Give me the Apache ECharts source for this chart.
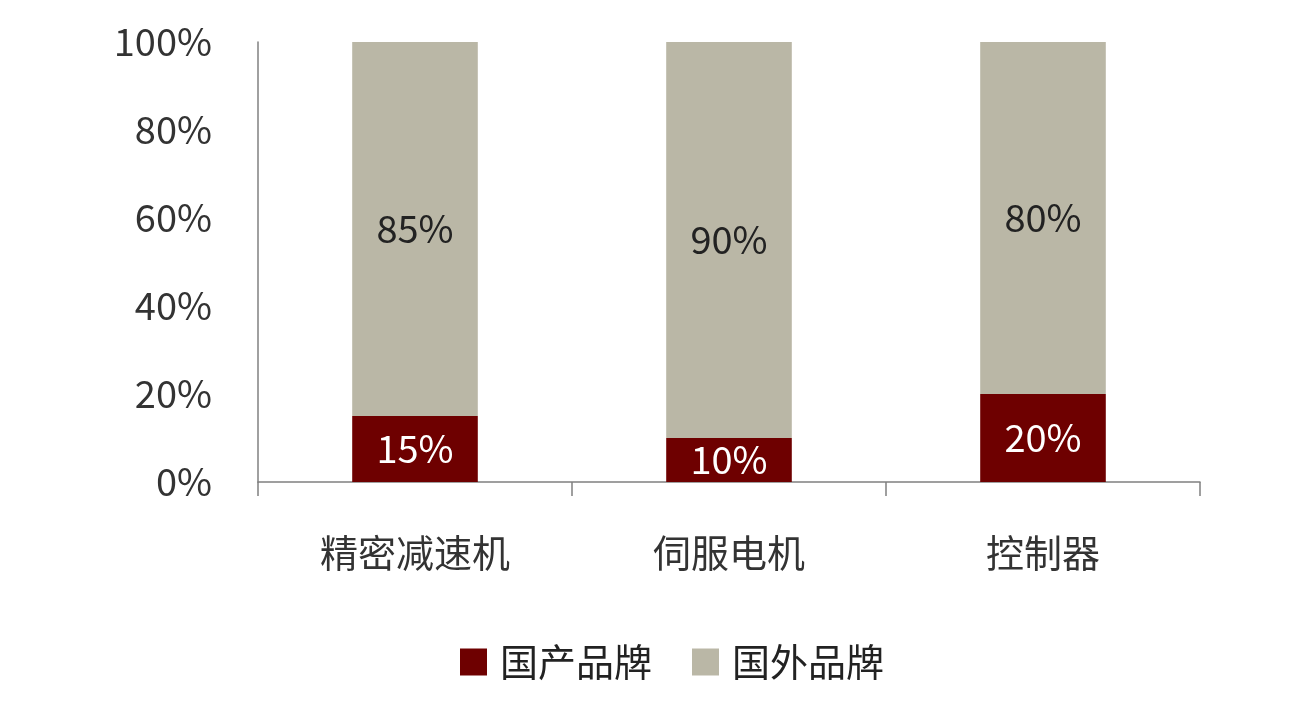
<!DOCTYPE html>
<html>
<head>
<meta charset="utf-8">
<script src="https://cdn.jsdelivr.net/npm/echarts@6/dist/echarts.min.js"></script>
<style>
  html, body { margin: 0; padding: 0; background: #fff; }
  #main { width: 1298px; height: 724px; }
</style>
</head>
<body>
<div id="main"></div>
<script>
// 类别与数据
var categories = ['精密减速机', '伺服电机', '控制器'];
var domestic = [15, 10, 20];
var foreign = [85, 90, 80];
var seriesNames = ['国产品牌', '国外品牌'];

var FONT = '"Noto Sans CJK SC", "Noto Sans", sans-serif';

var chart = echarts.init(document.getElementById('main'));

var option = {
  backgroundColor: '#fff',
  textStyle: { fontFamily: FONT },
  grid: { left: 258, right: 98, top: 42, bottom: 242, containLabel: false },
  legend: {
    data: seriesNames,
    top: 643,
    left: 460,
    padding: 0,
    itemWidth: 27,
    itemHeight: 27,
    itemGap: 40,
    icon: 'rect',
    textStyle: { fontSize: 38, color: '#222', fontFamily: FONT, padding: [0, 0, 0, 8] }
  },
  xAxis: {
    type: 'category',
    data: categories,
    axisLine: { lineStyle: { color: '#808080', width: 1.5 } },
    axisTick: { show: true, length: 14, alignWithLabel: false, lineStyle: { color: '#808080', width: 1.5 } },
    axisLabel: { fontSize: 38, color: '#333', margin: 52, fontFamily: FONT }
  },
  yAxis: {
    type: 'value',
    min: 0,
    max: 100,
    interval: 20,
    axisLine: { show: true, lineStyle: { color: '#808080', width: 1.5 } },
    axisTick: { show: false },
    splitLine: { show: false },
    axisLabel: { fontSize: 38, color: '#333', margin: 46, formatter: '{value}%', fontFamily: FONT }
  },
  series: [
    {
      name: seriesNames[0],
      type: 'bar',
      stack: 'total',
      barWidth: '40%',
      data: domestic,
      itemStyle: { color: '#6E0000' },
      label: { show: true, position: 'inside', formatter: '{c}%', fontSize: 38, color: '#fff', fontFamily: FONT }
    },
    {
      name: seriesNames[1],
      type: 'bar',
      stack: 'total',
      barWidth: '40%',
      data: foreign,
      itemStyle: { color: '#BAB7A6' },
      label: { show: true, position: 'inside', formatter: '{c}%', fontSize: 38, color: '#222', fontFamily: FONT }
    }
  ]
};

chart.setOption(option);
</script>
</body>
</html>
